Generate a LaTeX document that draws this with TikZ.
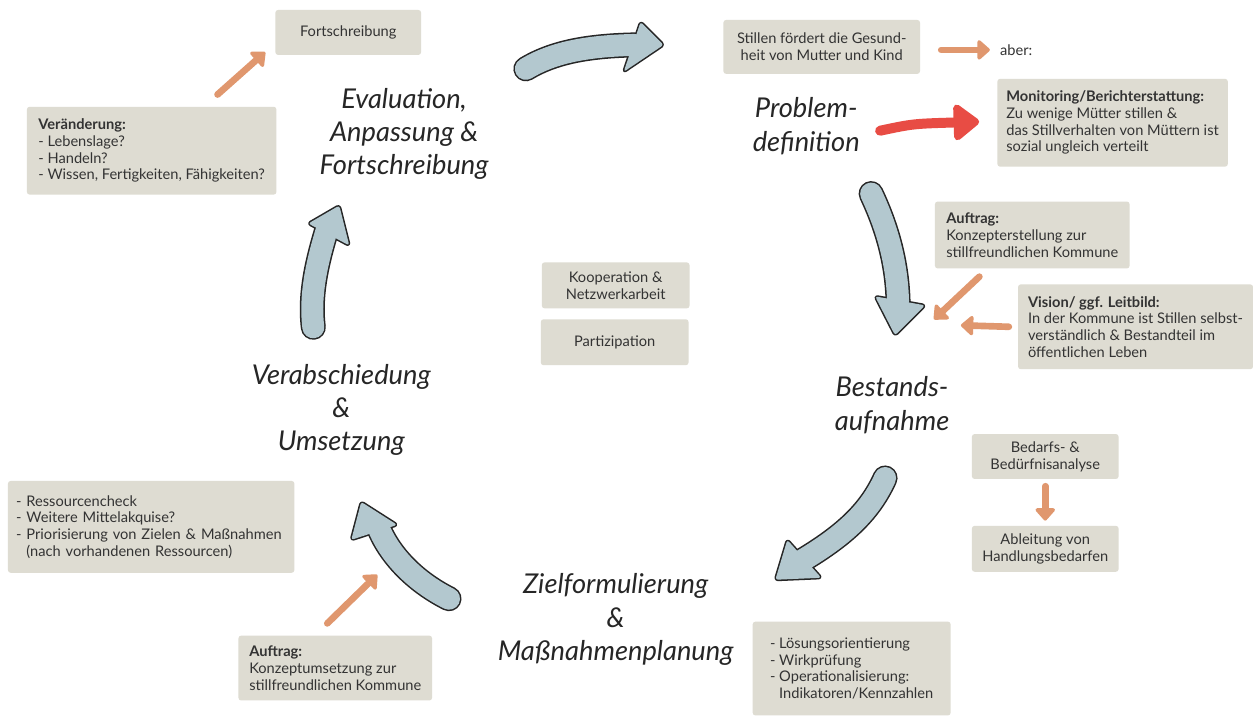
\documentclass[tikz,border=0pt]{standalone}
\usepackage{fontspec}
\setmainfont{Lato}
\usetikzlibrary{arrows.meta,calc}

\definecolor{boxgray}{HTML}{DEDCD2}
\definecolor{textgray}{HTML}{333333}
\definecolor{labelgray}{HTML}{262626}
\definecolor{arrowblue}{HTML}{B3C8CF}
\definecolor{arroworange}{HTML}{E0976E}
\definecolor{arrowred}{HTML}{E84C44}

% blue block arrow of the cycle: #1 shaft, #2 head
\newcommand{\cyclearrow}[2]{%
	\draw[shaftout] #1;
	\filldraw[headout] #2;
	\draw[shaftin] #1;
	\fill[headin] #2;
}

\tikzset{
	box/.style={fill=boxgray, rounded corners=2pt, text=textgray, font=\fontsize{11}{12.6}\selectfont, align=center, inner sep=0pt},
	leftbox/.style={box, align=left},
	stage/.style={font=\fontsize{20.5}{25}\selectfont\itshape, text=labelgray, align=center, inner sep=0pt},
	shaftout/.style={draw=black!85, line width=18.8pt, line cap=round},
	shaftin/.style={draw=arrowblue, line width=16.5pt, line cap=round},
	headout/.style={draw=black!85, fill=arrowblue, line width=2.3pt, line join=round, rounded corners=2pt},
	headin/.style={fill=arrowblue, rounded corners=2pt},
	orangearr/.style={draw=arroworange, line width=5pt, line cap=round, -{Triangle[round, length=10pt, width=17pt]}},
	redarr/.style={draw=arrowred, line width=7.5pt, line cap=round, -{Triangle[round, length=21pt, width=31pt]}}
}

\begin{document}
\begin{tikzpicture}[x=0.75pt,y=0.75pt,yscale=-1,xscale=1]
	\fill[white] (0,0) rectangle (1253,718);
	
	% Boxes
	\node[box, minimum width=109.5pt, minimum height=33.75pt] (fort) at (349,32.5) {Fortschreibung};
	\node[leftbox, minimum width=187.5pt, minimum height=66pt, inner xsep=8.25pt] (veraend) at (152,151) {\textbf{Veränderung:}\\- Lebenslage?\\- Handeln?\\- Wissen, Fertigkeiten, Fähigkeiten?};
	\node[box, minimum width=147.75pt, minimum height=40.5pt] (stillen) at (823.5,47) {Stillen fördert die Gesund-\\heit von Mutter und Kind};
	\node[text=textgray, font=\fontsize{11}{12.6}\selectfont, anchor=west, inner sep=0pt] (aber) at (1002,50) {aber:};
	\node[leftbox, minimum width=171pt, minimum height=66pt, inner xsep=6.75pt] (monitor) at (1115,123) {\textbf{Monitoring/Berichterstattung:}\\Zu wenige Mütter stillen \&\\das Stillverhalten von Müttern ist\\sozial ungleich verteilt};
	\node[leftbox, minimum width=146.25pt, minimum height=50.25pt, inner xsep=7.5pt] (auftragA) at (1034.5,235.5) {\textbf{Auftrag:}\\Konzepterstellung zur\\stillfreundlichen Kommune};
	\node[leftbox, minimum width=172.5pt, minimum height=63.75pt, inner xsep=7.5pt] (vision) at (1138,327.5) {\textbf{Vision/ ggf. Leitbild:}\\In der Kommune ist Stillen selbst-\\verständlich \& Bestandteil im\\öffentlichen Leben};
	\node[box, minimum width=110.25pt, minimum height=33.75pt] (bedarf) at (1047.5,457.5) {Bedarfs- \&\\Bedürfnisanalyse};
	\node[box, minimum width=110.25pt, minimum height=34.5pt] (ableit) at (1047.5,550) {Ableitung von\\Handlungsbedarfen};
	\node[leftbox, minimum width=147.75pt, minimum height=70.5pt, inner xsep=13pt] (loesung) at (853.5,670) {- Lösungsorientierung\\- Wirkprüfung\\- Operationalisierung:\\\hphantom{-\ }Indikatoren/Kennzahlen};
	\node[leftbox, minimum width=215.25pt, minimum height=69pt, text width=203pt, inner xsep=6pt] (ressourc) at (151.5,528) {- Ressourcencheck\\- Weitere Mittelakquise?\\- Priorisierung von Zielen \& Maßnahmen\\\hphantom{-\ }(nach vorhandenen Ressourcen)};
	\node[leftbox, minimum width=145.5pt, minimum height=48.75pt, inner xsep=7.5pt] (auftragB) at (336,669.5) {\textbf{Auftrag:}\\Konzeptumsetzung zur\\stillfreundlichen Kommune};
	\node[box, minimum width=111pt, minimum height=34.5pt] (koop) at (617,286) {Kooperation \&\\Netzwerkarbeit};
	\node[box, minimum width=111pt, minimum height=34.5pt] (partiz) at (616,343) {Partizipation};
	
	% Stages
	\node[stage] (eval) at (405,134) {Evaluation,\\Anpassung \&\\Fortschreibung};
	\node[stage] (probl) at (808,126.5) {Problem-\\definition};
	\node[stage] (bestand) at (894,406) {Bestands-\\aufnahme};
	\node[stage] (ziel) at (617,621) {Zielformulierung\\\&\\Maßnahmenplanung};
	\node[stage] (verab) at (342,411) {Verabschiedung\\\&\\Umsetzung};
	
	% Cycle arrows
	\cyclearrow{(527,69) .. controls (555,52) and (590,46) .. (636,45)}{(642,22) -- (665,45) -- (625,72) -- cycle}
	\cyclearrow{(873,194) .. controls (890,230) and (899,265) .. (900,302)}{(877,297) -- (927,306) -- (897,336) -- cycle}
	\cyclearrow{(887,479) .. controls (872,512) and (848,535) .. (805,561)}{(789,541) -- (777,581) -- (823,579) -- cycle}
	\cyclearrow{(450,600) .. controls (420,585) and (392,560) .. (379,528)}{(352,541) -- (362,503) -- (398,526) -- cycle}
	\cyclearrow{(314,328) .. controls (310,295) and (318,262) .. (327,232)}{(309,224) -- (340,206) -- (350,246) -- cycle}
	
	% Orange arrows
	\coordinate (bestandin) at (936,320);
	\coordinate (zielout) at (378,576);
	\draw[orangearr] ($(veraend.north)+(66,-12)$) -- ($(fort.south west)+(-10,-3)$);
	\draw[orangearr] ($(stillen.east)+(21,3)$) -- ($(aber.west)+(-10,0)$);
	\draw[orangearr] ($(auftragA.south)+(-53,8)$) -- (bestandin);
	\draw[orangearr] ($(vision.west)+(-9,0)$) -- (963,326);
	\draw[orangearr] ($(bedarf.south)+(0,7)$) -- ($(ableit.north)+(0,-5)$);
	\draw[orangearr] ($(auftragB.north)+(-8,-12)$) -- (zielout);
	
	% Red arrow
	\coordinate (redtail) at (882,131);
	\draw[redarr] (redtail) .. controls (915,124) .. ($(monitor.west)+(-18,-1)$);
	
\end{tikzpicture}
\end{document}
